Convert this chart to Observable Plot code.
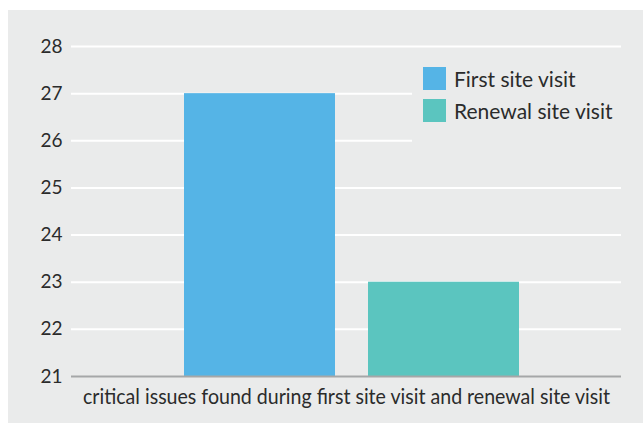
<!DOCTYPE html>
<html>
<head>
<meta charset="utf-8">
<script src="https://cdn.jsdelivr.net/npm/d3@7"></script>
<script src="https://cdn.jsdelivr.net/npm/@observablehq/plot@0.6"></script>
<style>
  body { margin: 0; background: #ffffff; }
  #wrap { position: relative; width: 643px; height: 425px; font-family: Lato, "Noto Sans", sans-serif; }
  #panel { position: absolute; left: 8px; top: 10px; width: 635px; height: 413px; background: #eaebeb; }
  #chart { position: absolute; left: 0; top: 0; }
  #legend { position: absolute; left: 412px; top: 58px; width: 215px; height: 86px; background: #eaebeb; }
  .item { position: absolute; left: 11px; height: 23px; display: flex; align-items: center; white-space: nowrap; }
  .sw { width: 23px; height: 23px; margin-right: 8px; flex: none; }
  .lab { font-size: 21px; color: #2b2b2b; }
</style>
</head>
<body>
<div id="wrap">
  <div id="panel"></div>
  <div id="chart"></div>
  <div id="legend"></div>
</div>
<script>
const categories = ["First site visit", "Renewal site visit"];
const values = [27, 23];
const colors = ["#55b4e6", "#5bc5bf"];
const yTicks = [21, 22, 23, 24, 25, 26, 27, 28];
const yMin = 21;
const yMax = 28;
const xLabel = "critical issues found during first site visit and renewal site visit";

const data = categories.map((c, i) => ({cat: c, value: values[i], color: colors[i]}));

const chart = Plot.plot({
  width: 643,
  height: 425,
  marginLeft: 71,
  marginRight: 22,
  marginTop: 46,
  marginBottom: 49,
  style: { background: "transparent", fontFamily: "Lato, 'Noto Sans', sans-serif" },
  x: { domain: categories, axis: null, paddingInner: 0.18, paddingOuter: 0.584, align: 0.526 },
  y: { domain: [yMin, yMax], axis: null },
  marks: [
    Plot.ruleY(yTicks.filter(d => d > yMin), { stroke: "#ffffff", strokeWidth: 2 }),
    Plot.barY(data, { x: "cat", y1: yMin, y2: "value", fill: "color" }),
    Plot.ruleY([yMin], { stroke: "#a5a7a8", strokeWidth: 2 }),
    Plot.axisY({ ticks: yTicks, tickSize: 0, tickPadding: 9, fontSize: 19, fill: "#2b2b2b", label: null, tickFormat: d => String(d) }),
    Plot.text([xLabel], { frameAnchor: "bottom", lineAnchor: "middle", dy: 21, fontSize: 21, fill: "#2b2b2b", className: "xlabel" })
  ]
});
document.getElementById("chart").appendChild(chart);
chart.querySelectorAll(".xlabel text").forEach(t => {
  t.setAttribute("textLength", "527");
  t.setAttribute("lengthAdjust", "spacingAndGlyphs");
});

const legend = document.getElementById("legend");
categories.forEach((c, i) => {
  const it = document.createElement("div");
  it.className = "item";
  it.style.top = (9 + i * 32) + "px";
  it.innerHTML = `<div class="sw" style="background:${colors[i]}"></div><span class="lab">${c}</span>`;
  legend.appendChild(it);
});
</script>
</body>
</html>
